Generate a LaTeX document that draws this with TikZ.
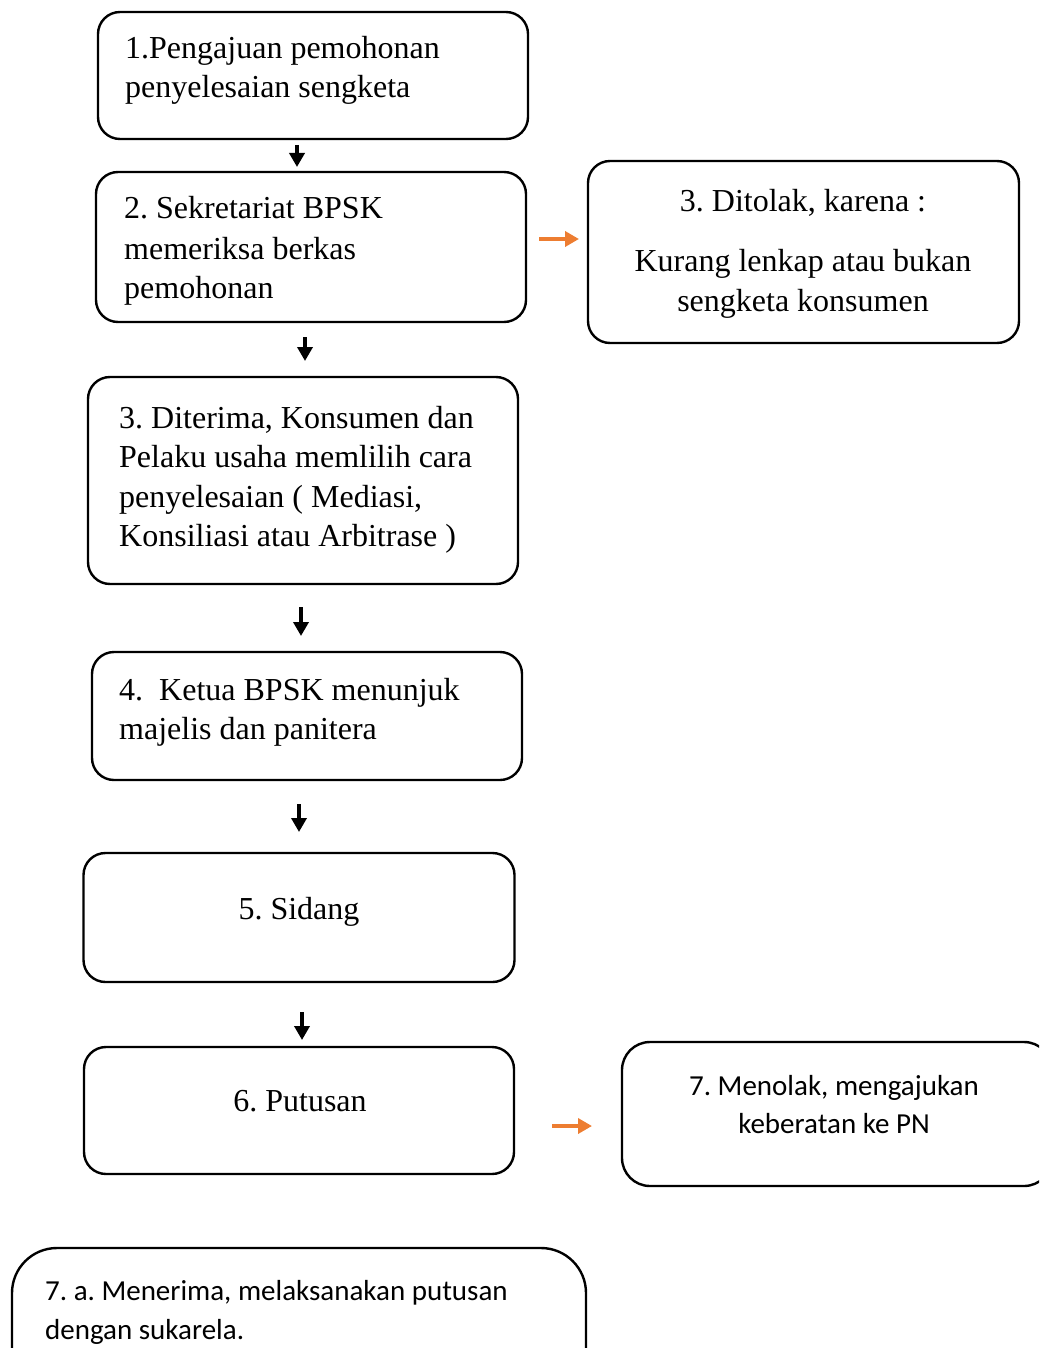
\documentclass[tikz,border=0pt]{standalone}
\usepackage{fontspec}
\setmainfont{Liberation Serif}
\newfontfamily\calibrifont{Carlito}
\usetikzlibrary{arrows.meta}
\definecolor{orangeA}{RGB}{237,125,49}
\frenchspacing
\begin{document}
\begin{tikzpicture}[x=1pt,y=-1pt,
  box/.style={draw, line width=2.4pt, rounded corners=22pt, inner sep=0pt},
  txt/.style={inner sep=0pt, font=\fontsize{32}{39}\selectfont},
  stxt/.style={inner sep=0pt, font=\calibrifont\fontsize{29}{39}\selectfont},
  darr/.style={line width=3.5pt, -{Triangle[width=15pt,length=14pt]}},
  oarr/.style={draw=orangeA, fill=orangeA, line width=3.6pt, -{Triangle[width=15pt,length=14pt]}}]
\useasboundingbox (0,0) rectangle (1039,1348);
\clip (0,0) rectangle (1039,1348);
% boxes
\node[box, minimum width=430pt, minimum height=127pt] (b1) at (313,75.5) {};
\node[box, minimum width=430pt, minimum height=150pt] (b2) at (311,247) {};
\node[box, minimum width=431pt, minimum height=182pt] (b3r) at (803.5,252) {};
\node[box, minimum width=430pt, minimum height=207pt] (b3) at (303,480.5) {};
\node[box, minimum width=430pt, minimum height=128pt] (b4) at (307,716) {};
\node[box, minimum width=431pt, minimum height=129pt] (b5) at (299,917.5) {};
\node[box, minimum width=430pt, minimum height=127pt] (b6) at (299,1110.5) {};
\node[box, rounded corners=28pt, minimum width=430pt, minimum height=144pt] (b7) at (837,1114) {};
\node[box, rounded corners=45pt, minimum width=574pt, minimum height=180pt] (b7a) at (299,1338) {};
% texts
\node[txt, anchor=base west] (t1a) at (125,59) {1.Pengajuan pemohonan};
\node[txt, anchor=base west] (t1b) at (125,98) {penyelesaian sengketa};
\node[txt, anchor=base west] (t2a) at (124,219) {2. Sekretariat BPSK};
\node[txt, anchor=base west] (t2b) at (124,259) {memeriksa berkas};
\node[txt, anchor=base west] (t2c) at (124,298) {pemohonan};
\node[txt, anchor=base] (t3ra) at (803,212) {3. Ditolak, karena :};
\node[txt, anchor=base] (t3rb) at (803,272) {Kurang lenkap atau bukan};
\node[txt, anchor=base] (t3rc) at (803,311) {sengketa konsumen};
\node[txt, anchor=base west] (t3a) at (119,428) {3. Diterima, Konsumen dan};
\node[txt, anchor=base west] (t3b) at (119,467) {Pelaku usaha memlilih cara};
\node[txt, anchor=base west] (t3c) at (119,507) {penyelesaian ( Mediasi,};
\node[txt, anchor=base west] (t3d) at (119,546) {Konsiliasi atau Arbitrase )};
\node[txt, anchor=base west] (t4a) at (119,700) {4.\ \ Ketua BPSK menunjuk};
\node[txt, anchor=base west] (t4b) at (119,739) {majelis dan panitera};
\node[txt, anchor=base] (t5) at (299,919) {5. Sidang};
\node[txt, anchor=base] (t6) at (300,1111) {6. Putusan};
\node[stxt, anchor=base] (t7a) at (834,1095) {7. Menolak, mengajukan};
\node[stxt, anchor=base] (t7b) at (834,1133) {keberatan ke PN};
\node[stxt, anchor=base west] (t7aa) at (45,1300) {7. a. Menerima, melaksanakan putusan};
\node[stxt, anchor=base west] (t7ab) at (45,1339) {dengan sukarela.};
% arrow end points
\coordinate (a1s) at (297,145);  \coordinate (a1e) at (297,167);
\coordinate (a2s) at (305,337);  \coordinate (a2e) at (305,361);
\coordinate (a3s) at (301,607);  \coordinate (a3e) at (301,636);
\coordinate (a4s) at (299,804);  \coordinate (a4e) at (299,832);
\coordinate (a5s) at (302,1012); \coordinate (a5e) at (302,1040);
\coordinate (o1s) at (539,239);  \coordinate (o1e) at (579,239);
\coordinate (o2s) at (552,1126); \coordinate (o2e) at (592,1126);
\draw[darr] (a1s) -- (a1e);
\draw[darr] (a2s) -- (a2e);
\draw[darr] (a3s) -- (a3e);
\draw[darr] (a4s) -- (a4e);
\draw[darr] (a5s) -- (a5e);
\draw[oarr] (o1s) -- (o1e);
\draw[oarr] (o2s) -- (o2e);
\end{tikzpicture}
\end{document}
